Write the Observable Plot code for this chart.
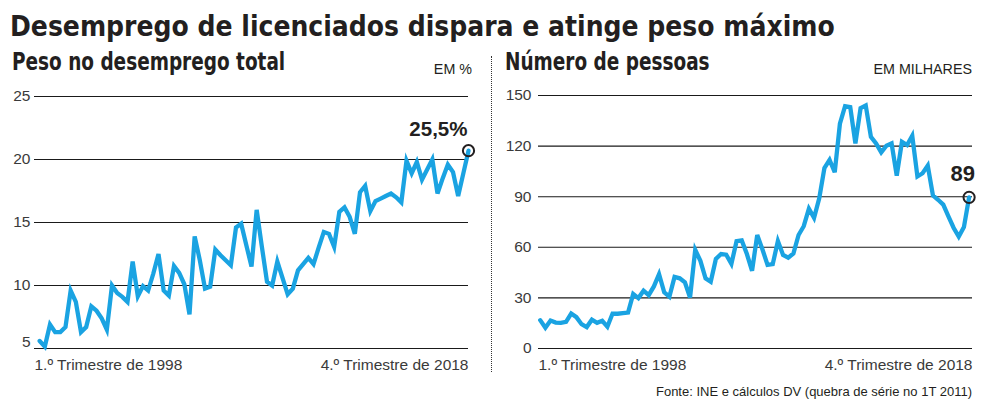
<!DOCTYPE html>
<html>
<head>
<meta charset="utf-8">
<script src="https://cdn.jsdelivr.net/npm/d3@7"></script>
<script src="https://cdn.jsdelivr.net/npm/@observablehq/plot@0.6"></script>
<style>
  html, body { margin: 0; padding: 0; background: #fff; }
  body { width: 991px; height: 414px; position: relative; overflow: hidden; font-family: "Liberation Sans", Arial, sans-serif; color: #231f20; }
  .abs { position: absolute; line-height: 1; white-space: nowrap; }
  .title { left: 10px; top: 12px; font-family: "Liberation Sans Narrow", "DejaVu Sans Condensed", Roboto, sans-serif; font-weight: 700; font-size: 29px; transform: scaleX(0.963); transform-origin: 0 0; }
  .sub { font-family: "Liberation Sans Narrow", "DejaVu Sans Condensed", Roboto, sans-serif; font-weight: 700; font-size: 24px; top: 50px; transform: scaleX(0.855); transform-origin: 0 0; }
  .unit { font-size: 14.3px; top: 62px; color: #231f20; }
  .src { font-size: 13px; top: 385px; right: 19px; color: #231f20; }
  .sep { position: absolute; left: 491px; top: 56px; height: 316px; border-left: 1px dotted #333; }
  #left, #right { position: absolute; top: 80px; }
  #left { left: 0; }
  #right { left: 488px; }
</style>
</head>
<body>
<div class="abs title" id="title"></div>
<div class="abs sub" id="sub1" style="left:12px"></div>
<div class="abs unit" id="unit1" style="right:519px"></div>
<div class="abs sub" id="sub2" style="left:505px"></div>
<div class="abs unit" id="unit2" style="right:19px"></div>
<div class="sep"></div>
<div id="left"></div>
<div id="right"></div>
<div class="abs src" id="src"></div>
<script>
// ---- text ----
const titleText = "Desemprego de licenciados dispara e atinge peso máximo";
const panelTitles = ["Peso no desemprego total", "Número de pessoas"];
const panelUnits = ["EM %", "EM MILHARES"];
const xLabels = ["1.º Trimestre de 1998", "4.º Trimestre de 2018"];
const sourceText = "Fonte: INE e cálculos DV (quebra de série no 1T 2011)";
const pesoLabel = "25,5%";
const pessoasLabel = "89";

// ---- ticks ----
const pesoTicks = [5, 10, 15, 20, 25];
const pessoasTicks = [0, 30, 60, 90, 120, 150];

// ---- quarters 1T1998 .. 4T2018 ----
const years = d3.range(1998, 2019);
const quarters = years.flatMap(y => [1, 2, 3, 4].map(q => `${q}T${y}`));

// ---- series ----
const pesoValues = [
  5.6, 5.15, 6.9, 6.3, 6.3, 6.7, 9.6, 8.7, 6.3, 6.7,
  8.35, 8.0, 7.4, 6.5, 10.0, 9.4, 9.1, 8.7, 11.9, 9.15,
  9.95, 9.6, 10.95, 12.5, 9.6, 9.2, 11.55, 11.0, 10.1, 7.7,
  13.9, 12.0, 9.75, 9.9, 12.85, 12.4, 12.0, 11.6, 14.6, 14.9,
  13.2, 11.5, 16.0, 13.1, 10.3, 10.0, 11.9, 10.6, 9.3, 9.75,
  11.2, 11.7, 12.2, 11.7, 13.0, 14.25, 14.1, 13.07, 15.85, 16.2,
  15.45, 14.1, 17.4, 17.9, 15.9, 16.7, 16.9, 17.1, 17.3, 17.0,
  16.6, 19.9, 18.9, 19.8, 18.4, 19.2, 20.0, 17.3, 18.5, 19.6,
  19.0, 17.1, 18.9, 20.7
];
const pessoasValues = [
  16.8, 12.3, 16.6, 15.4, 15.2, 15.8, 20.7, 18.6, 14.4, 12.7,
  17.1, 15.2, 16.4, 12.9, 20.7, 20.6, 21.0, 21.3, 32.3, 29.9,
  34.3, 31.6, 36.8, 44.1, 33.3, 30.7, 42.4, 41.6, 39.2, 30.2,
  58.5, 52.0, 41.6, 39.6, 53.1, 56.0, 55.6, 50.2, 63.6, 64.1,
  56.0, 46.1, 67.3, 58.8, 49.6, 50.0, 63.7, 55.5, 53.9, 56.3,
  67.3, 72.5, 82.9, 77.5, 89.0, 107.0, 111.8, 104.5, 133.3, 143.7,
  143.1, 121.6, 142.5, 144.1, 125.5, 121.6, 116.3, 120.2, 121.6, 102.5,
  122.5, 120.6, 126.1, 102.0, 103.9, 108.4, 90.8, 88.2, 85.3, 78.4,
  71.6, 66.3, 72.0, 89.6
];

const blue = "#1aa3e2";
const ink = "#231f20";
const tickFont = { fontFamily: "'Liberation Sans', Arial, sans-serif", fontSize: 15.5, fill: "#3a3a3a" };

function panel({values, ticks, yDomain, xDomain, width, marginLeft, marginRight, marginTop, tickDx, label, labelDx, labelDy, labelSize, labelWeight, bottomTickDy}) {
  const data = values.map((v, i) => ({q: quarters[i], i, v}));
  const last = data[data.length - 1];
  return Plot.plot({
    width, height: 300,
    marginLeft, marginRight, marginTop, marginBottom: 32,
    x: {domain: xDomain, axis: null},
    y: {domain: yDomain, axis: null},
    style: {fontFamily: "'Liberation Sans', Arial, sans-serif", overflow: "visible", background: "transparent"},
    marks: [
      Plot.ruleY(ticks, {stroke: "#1a1a1a", strokeWidth: 1.1}),
      Plot.text(ticks.slice(1), {y: d => d, text: d => String(d), frameAnchor: "left", textAnchor: "end", dx: tickDx, ...tickFont}),
      Plot.text(ticks.slice(0, 1), {y: d => d, text: d => String(d), frameAnchor: "left", textAnchor: "end", dx: tickDx, dy: bottomTickDy, ...tickFont}),
      Plot.text([xLabels[0]], {frameAnchor: "bottom-left", textAnchor: "start", lineAnchor: "bottom", dy: 21, ...tickFont}),
      Plot.text([xLabels[1]], {frameAnchor: "bottom-right", textAnchor: "end", lineAnchor: "bottom", dy: 21, ...tickFont}),
      Plot.line(data, {x: "i", y: "v", stroke: blue, strokeWidth: 4.3, strokeLinejoin: "miter", strokeMiterlimit: 4, strokeLinecap: "round"}),
      Plot.dot([last], {x: "i", y: "v", r: 5.6, stroke: ink, strokeWidth: 2, fill: "none"}),
      Plot.text([last], {x: "i", y: "v", text: () => label, textAnchor: "end", lineAnchor: "bottom", dx: labelDx, dy: labelDy, fontSize: labelSize, fontWeight: labelWeight, fill: ink})
    ]
  });
}

document.getElementById("title").textContent = titleText;
document.getElementById("sub1").textContent = panelTitles[0];
document.getElementById("sub2").textContent = panelTitles[1];
document.getElementById("unit1").textContent = panelUnits[0];
document.getElementById("unit2").textContent = panelUnits[1];
document.getElementById("src").textContent = sourceText;

document.getElementById("left").appendChild(panel({
  values: pesoValues, ticks: pesoTicks, yDomain: [5, 25], xDomain: [-1, 83],
  width: 488, marginLeft: 34, marginRight: 20, marginTop: 16, tickDx: -4,
  label: pesoLabel, labelDx: -1, labelDy: -15, labelSize: 20.5, labelWeight: 700, bottomTickDy: -6
}));
document.getElementById("right").appendChild(panel({
  values: pessoasValues, ticks: pessoasTicks, yDomain: [0, 150], xDomain: [-0.33, 83.66],
  width: 503, marginLeft: 50, marginRight: 19, marginTop: 15, tickDx: -7,
  label: pessoasLabel, labelDx: 6, labelDy: -16, labelSize: 22, labelWeight: 700, bottomTickDy: 0
}));
</script>
</body>
</html>
